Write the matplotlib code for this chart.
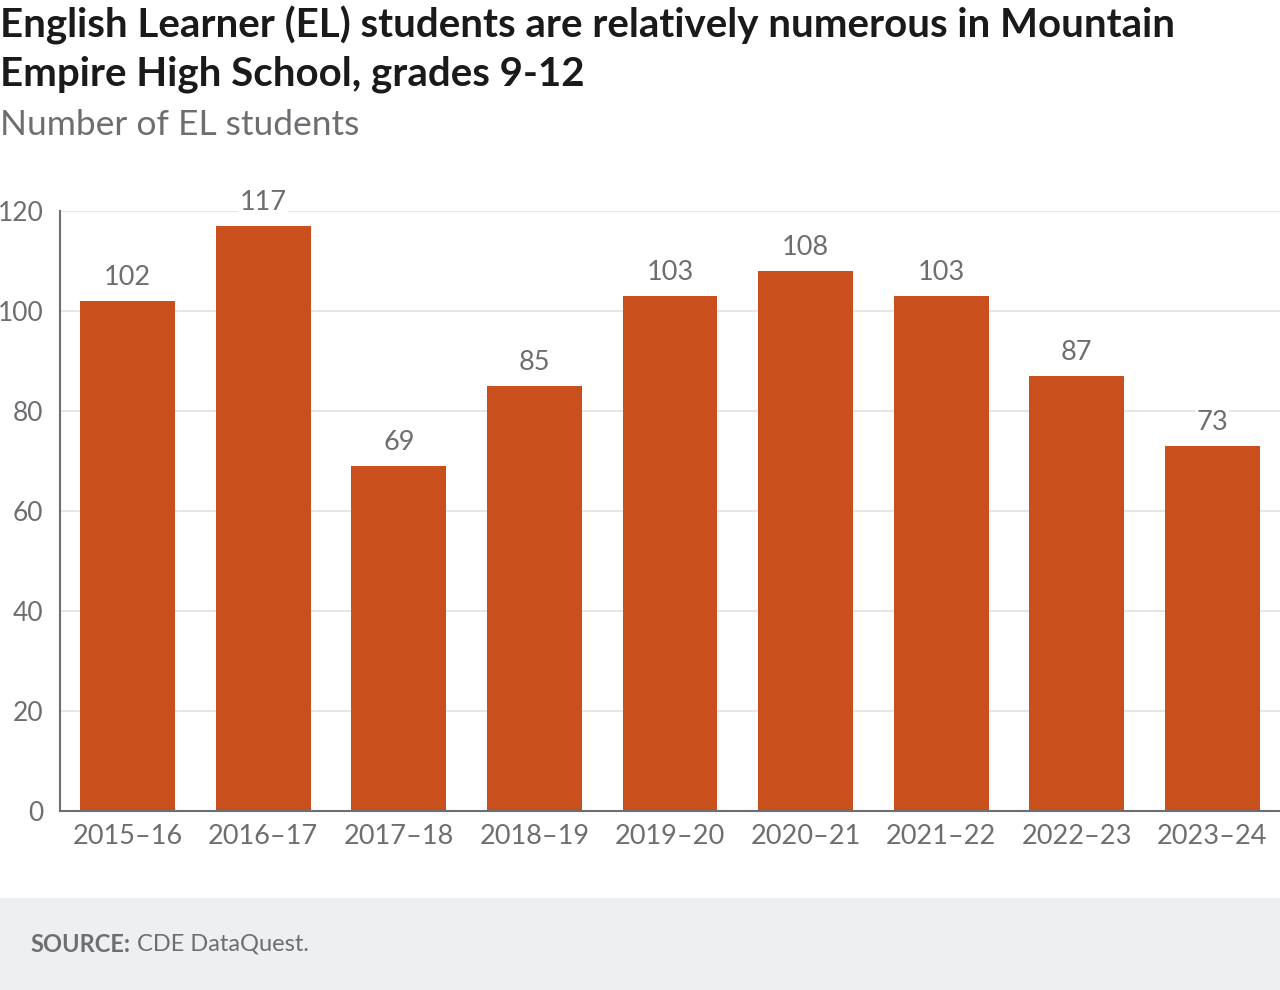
import matplotlib.pyplot as plt
from matplotlib.patches import Rectangle

years = ['2015–16', '2016–17', '2017–18', '2018–19', '2019–20',
         '2020–21', '2021–22', '2022–23', '2023–24']
students = [102, 117, 69, 85, 103, 108, 103, 87, 73]

bar_color = '#c9501c'
gray = '#6d6e71'

plt.rcParams['font.family'] = ['Lato', 'DejaVu Sans']

fig = plt.figure(figsize=(12.8, 9.9), dpi=100)
ax = fig.add_axes([60 / 1280, (990 - 811) / 990, 1220 / 1280, 600 / 990])

x = range(len(years))
ax.bar(x, students, width=0.7, color=bar_color, zorder=2)
for i, v in enumerate(students):
    ax.text(i, v + 2.2, str(v), ha='center', va='bottom', fontsize=19.5, color=gray,
            zorder=3, bbox=dict(facecolor='white', edgecolor='none', pad=1))

ax.set_xlim(-0.5, 8.5)
ax.set_ylim(0, 120)
ax.set_yticks(range(0, 121, 20))
ax.set_xticks(list(x))
ax.set_xticklabels(years)
ax.tick_params(axis='both', length=0, labelcolor=gray)
ax.tick_params(axis='x', pad=9, labelsize=19.5)
ax.tick_params(axis='y', pad=12, labelsize=19)
ax.grid(axis='y', color='#e2e2e2', linewidth=1.2, zorder=0)
ax.set_axisbelow(True)
for s in ['top', 'right']:
    ax.spines[s].set_visible(False)
ax.spines['left'].set_color(gray)
ax.spines['bottom'].set_color(gray)
ax.spines['left'].set_linewidth(1.5)
ax.spines['bottom'].set_linewidth(1.5)

fig.text(0.0, 1 - 6 / 990, 'English Learner (EL) students are relatively numerous in Mountain\nEmpire High School, grades 9-12',
         fontsize=29, fontweight='bold', color='#1a1a1a', va='top', ha='left', linespacing=1.33)
fig.text(0.0, 1 - 125 / 990, 'Number of EL students', fontsize=25.5, color=gray, va='center', ha='left')

fig.patches.append(Rectangle((0, 0), 1, 92 / 990, transform=fig.transFigure,
                             facecolor='#eeeff1', edgecolor='none', zorder=0))
fig.text(30 / 1280, 1 - 944 / 990, 'SOURCE:', fontsize=17, fontweight='bold', color=gray, va='center')
fig.text(137 / 1280, 1 - 944 / 990, 'CDE DataQuest.', fontsize=17, color=gray, va='center')

fig.savefig('out.png', dpi=100)
